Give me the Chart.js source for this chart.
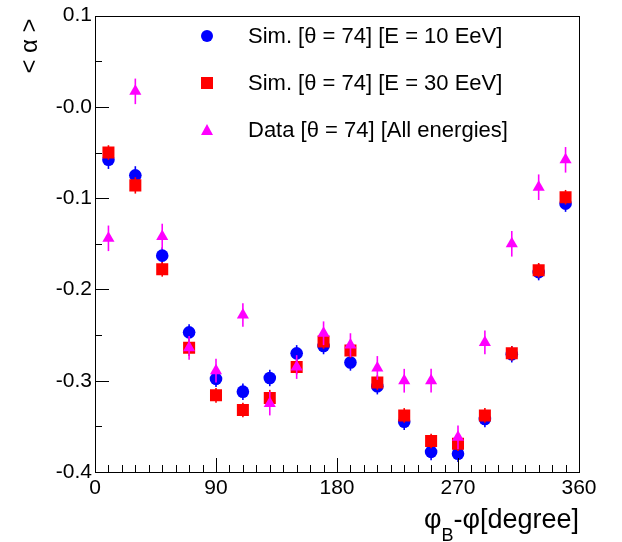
<!DOCTYPE html>
<html>
<head>
<meta charset="utf-8">
<script src="https://cdn.jsdelivr.net/npm/chart.js@4/dist/chart.umd.min.js"></script>
<style>
  html, body { margin: 0; padding: 0; background: #fff; }
</style>
</head>
<body>
<canvas id="c" width="622" height="542"></canvas>
<script>
// bin centres of phi_B - phi (degrees)
const phiBins = [10, 30, 50, 70, 90, 110, 130, 150, 170, 190, 210, 230, 250, 270, 290, 310, 330, 350];

// <alpha> per bin
const sim10 = [-0.058, -0.075, -0.163, -0.247, -0.298, -0.312, -0.297, -0.270, -0.262, -0.280, -0.306, -0.345, -0.378, -0.380, -0.342, -0.271, -0.181, -0.106];
const sim10Err = [0.010, 0.010, 0.009, 0.009, 0.009, 0.009, 0.009, 0.009, 0.009, 0.009, 0.009, 0.009, 0.009, 0.009, 0.009, 0.009, 0.009, 0.009];
const sim30 = [-0.050, -0.086, -0.178, -0.264, -0.316, -0.332, -0.319, -0.285, -0.257, -0.267, -0.302, -0.338, -0.366, -0.369, -0.338, -0.270, -0.179, -0.099];
const sim30Err = [0.008, 0.009, 0.008, 0.009, 0.008, 0.008, 0.009, 0.008, 0.008, 0.008, 0.008, 0.008, 0.008, 0.008, 0.008, 0.008, 0.008, 0.008];
const dataAll = [-0.144, 0.017, -0.142, -0.264, -0.289, -0.228, -0.325, -0.285, -0.248, -0.261, -0.286, -0.300, -0.300, -0.362, -0.258, -0.150, -0.088, -0.058];
const dataErr = [0.014, 0.014, 0.014, 0.013, 0.013, 0.013, 0.013, 0.013, 0.013, 0.013, 0.013, 0.013, 0.013, 0.013, 0.013, 0.014, 0.014, 0.014];

const seriesNames = ['Sim. [\u03b8 = 74] [E = 10 EeV]', 'Sim. [\u03b8 = 74] [E = 30 EeV]', 'Data [\u03b8 = 74] [All energies]'];

const xTickVals = [0, 90, 180, 270, 360];
const xTickLabels = ['0', '90', '180', '270', '360'];
const yTickVals = [-0.4, -0.3, -0.2, -0.1, 0, 0.1];
const yTickLabels = ['-0.4', '-0.3', '-0.2', '-0.1', '-0.0', '0.1'];

const FONT = "'Liberation Sans', Arial, Helvetica, sans-serif";

function pts(vals) {
    return phiBins.map((x, i) => ({ x: x, y: vals[i] }));
}

// vertical error bars, drawn just before each dataset's markers
const errorBars = {
    id: 'errorBars',
    beforeDatasetDraw(chart, args) {
        const ds = chart.data.datasets[args.index];
        if (!ds.errors) return;
        const ctx = chart.ctx;
        const xs = chart.scales.x, ys = chart.scales.y;
        ctx.save();
        ctx.strokeStyle = ds.borderColor;
        ctx.lineWidth = 1.6;
        ds.data.forEach((p, i) => {
            const px = xs.getPixelForValue(p.x);
            ctx.beginPath();
            ctx.moveTo(px, ys.getPixelForValue(p.y - ds.errors[i]));
            ctx.lineTo(px, ys.getPixelForValue(p.y + ds.errors[i]));
            ctx.stroke();
        });
        ctx.restore();
    }
};

// ROOT-like frame, inside ticks, axis titles and legend
const rootFrame = {
    id: 'rootFrame',
    afterDraw(chart) {
        const ctx = chart.ctx;
        const a = chart.chartArea;
        const xs = chart.scales.x, ys = chart.scales.y;
        ctx.save();
        ctx.strokeStyle = '#000';
        ctx.lineWidth = 1;
        ctx.strokeRect(Math.round(a.left) + 0.5, Math.round(a.top) + 0.5,
            Math.round(a.right - a.left), Math.round(a.bottom - a.top));

        ctx.beginPath();
        for (let v = 0; v <= 360; v += 10) {
            const px = Math.round(xs.getPixelForValue(v)) + 0.5;
            const len = v % 90 === 0 ? 14 : 7;
            ctx.moveTo(px, a.bottom);
            ctx.lineTo(px, a.bottom - len);
        }
        for (let k = -8; k <= 2; k++) {
            const py = Math.round(ys.getPixelForValue(k * 0.05)) + 0.5;
            const len = k % 2 === 0 ? 14 : 7;
            ctx.moveTo(a.left, py);
            ctx.lineTo(a.left + len, py);
        }
        ctx.stroke();

        // y title
        ctx.fillStyle = '#000';
        ctx.save();
        ctx.translate(30, 46);
        ctx.rotate(-Math.PI / 2);
        ctx.font = '24px ' + FONT;
        ctx.textAlign = 'center';
        ctx.textBaseline = 'middle';
        ctx.fillText('< \u03b1 >', 0, 0);
        ctx.restore();

        // x title with subscript, right aligned
        ctx.textBaseline = 'alphabetic';
        ctx.textAlign = 'left';
        const bigFont = '27px ' + FONT, subFont = '18px ' + FONT;
        ctx.font = bigFont;
        const w1 = ctx.measureText('\u03c6').width;
        const w3 = ctx.measureText('-\u03c6[degree]').width;
        ctx.font = subFont;
        const w2 = ctx.measureText('B').width;
        let tx = 579 - (w1 + w2 + w3);
        ctx.font = bigFont;
        ctx.fillText('\u03c6', tx, 528);
        tx += w1;
        ctx.font = subFont;
        ctx.fillText('B', tx, 541);
        tx += w2;
        ctx.font = bigFont;
        ctx.fillText('-\u03c6[degree]', tx, 528);

        // legend
        const rows = [36, 83, 130];
        const colors = ['#0000ff', '#ff0000', '#ff00ff'];
        ctx.font = '22px ' + FONT;
        ctx.textBaseline = 'middle';
        rows.forEach((ry, i) => {
            ctx.fillStyle = colors[i];
            ctx.beginPath();
            if (i === 0) {
                ctx.arc(207, ry, 6, 0, Math.PI * 2);
            } else if (i === 1) {
                ctx.rect(201, ry - 6, 12, 12);
            } else {
                ctx.moveTo(207, ry - 6);
                ctx.lineTo(213, ry + 5);
                ctx.lineTo(201, ry + 5);
                ctx.closePath();
            }
            ctx.fill();
            ctx.fillStyle = '#000';
            ctx.fillText(seriesNames[i], 248, ry + 1);
        });
        ctx.restore();
    }
};

new Chart(document.getElementById('c'), {
    type: 'scatter',
    data: {
        datasets: [{
            label: seriesNames[0],
            data: pts(sim10),
            errors: sim10Err,
            pointStyle: 'circle',
            pointRadius: 6.3,
            backgroundColor: '#0000ff',
            borderColor: '#0000ff',
            pointBorderWidth: 0,
            order: 3
        }, {
            label: seriesNames[1],
            data: pts(sim30),
            errors: sim30Err,
            pointStyle: 'rect',
            pointRadius: 8.5,
            backgroundColor: '#ff0000',
            borderColor: '#ff0000',
            pointBorderWidth: 0,
            order: 2
        }, {
            label: seriesNames[2],
            data: pts(dataAll),
            errors: dataErr,
            pointStyle: 'triangle',
            pointRadius: 7,
            backgroundColor: '#ff00ff',
            borderColor: '#ff00ff',
            pointBorderWidth: 0,
            order: 1
        }]
    },
    options: {
        responsive: false,
        animation: false,
        devicePixelRatio: 1,
        layout: { padding: { left: 0, right: 43, top: 12, bottom: 0 } },
        plugins: {
            legend: { display: false },
            tooltip: { enabled: false }
        },
        scales: {
            x: {
                type: 'linear',
                min: 0,
                max: 360,
                afterBuildTicks: s => { s.ticks = xTickVals.map(v => ({ value: v })); },
                afterFit: s => { s.height = 70; },
                grid: { display: false, drawTicks: false },
                border: { display: false },
                ticks: {
                    padding: 4,
                    maxRotation: 0,
                    autoSkip: false,
                    color: '#000',
                    font: { family: FONT, size: 21 },
                    callback: (v, i) => xTickLabels[i]
                }
            },
            y: {
                type: 'linear',
                min: -0.4,
                max: 0.1,
                afterBuildTicks: s => { s.ticks = yTickVals.map(v => ({ value: v })); },
                afterFit: s => { s.width = 95; },
                grid: { display: false, drawTicks: false },
                border: { display: false },
                ticks: {
                    padding: 3,
                    autoSkip: false,
                    color: '#000',
                    font: { family: FONT, size: 21 },
                    callback: (v, i) => yTickLabels[i]
                }
            }
        }
    },
    plugins: [errorBars, rootFrame]
});
</script>
</body>
</html>
